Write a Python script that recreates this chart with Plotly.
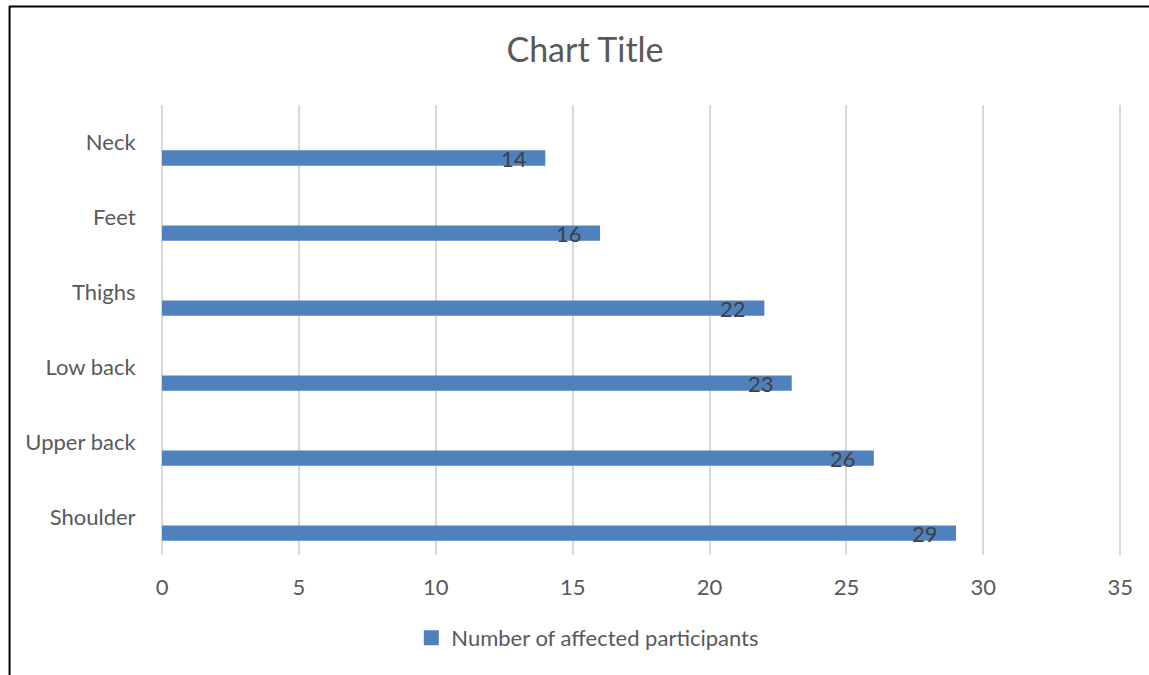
import plotly.graph_objects as go

categories = ["Shoulder", "Upper back", "Low back", "Thighs", "Feet", "Neck"]
values = [29, 26, 23, 22, 16, 14]
x_ticks = [0, 5, 10, 15, 20, 25, 30, 35]
series_name = "Number of affected participants"

W, H = 1149, 675
L, T, B = 162, 105, 120
XMAX = 35.1
R = W - L - XMAX * (1120.4 - 161.7) / 35
pw, ph = W - L - R, H - T - B

pos = list(range(len(categories)))
bar_color = "#4f81bd"
font = "Lato, 'Open Sans', sans-serif"

fig = go.Figure()
fig.add_trace(go.Bar(
    x=values, y=pos, orientation="h",
    name=series_name, marker=dict(color=bar_color, line=dict(width=0)),
    width=0.205, offset=-0.31, showlegend=False,
))
# legend entry (square swatch)
fig.add_trace(go.Scatter(
    x=[None], y=[None], mode="markers", name=series_name,
    marker=dict(symbol="square", size=15, color=bar_color), showlegend=True,
))

for v, p in zip(values, pos):
    fig.add_annotation(x=v, y=p - 0.205, xref="x", yref="y", text=str(v),
                       showarrow=False, xanchor="right", yanchor="middle",
                       xshift=-16, yshift=-1,
                       font=dict(family=font, size=22, color="#404040"))

def px_to_paper_x(px):
    return (px - L) / pw

def px_to_paper_y(py):
    return (H - B - py) / ph

# chart border (top and left edges)
fig.add_shape(type="line", xref="paper", yref="paper",
              x0=px_to_paper_x(9), x1=px_to_paper_x(1160),
              y0=px_to_paper_y(6.5), y1=px_to_paper_y(6.5),
              line=dict(color="black", width=2))
fig.add_shape(type="line", xref="paper", yref="paper",
              x0=px_to_paper_x(9.5), x1=px_to_paper_x(9.5),
              y0=px_to_paper_y(6), y1=px_to_paper_y(690),
              line=dict(color="black", width=2))

fig.update_layout(
    width=W, height=H,
    margin=dict(l=L, r=R, t=T, b=B),
    paper_bgcolor="white", plot_bgcolor="white",
    title=dict(text="Chart Title", x=585 / W, xanchor="center",
               y=1 - 50 / H, yanchor="middle",
               font=dict(family=font, size=34, color="#595959")),
    font=dict(family=font, color="#595959"),
    xaxis=dict(range=[0, XMAX], tickvals=x_ticks, showgrid=True,
               gridcolor="#d9d9d9", gridwidth=1.5, zeroline=True,
               zerolinecolor="#d9d9d9", zerolinewidth=1.5, showline=False,
               ticks="outside", ticklen=13, tickcolor="rgba(0,0,0,0)",
               tickfont=dict(family=font, size=22, color="#595959")),
    yaxis=dict(range=[-0.5, 5.5], tickvals=pos, ticktext=categories,
               showgrid=False, zeroline=False, showline=False,
               ticks="outside", ticklen=21, tickcolor="rgba(0,0,0,0)",
               tickfont=dict(family=font, size=22, color="#595959")),
    legend=dict(orientation="h", x=(588 - L) / pw,
                xanchor="center", y=px_to_paper_y(638), yanchor="middle",
                font=dict(family=font, size=22, color="#595959"),
                itemwidth=30),
    showlegend=True,
)

fig.write_html("out.html")
